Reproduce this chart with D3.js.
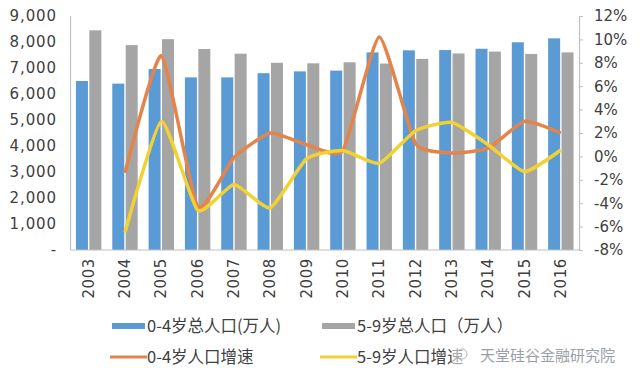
<!DOCTYPE html>
<html>
<head>
<meta charset="utf-8">
<script src="https://cdn.jsdelivr.net/npm/d3@7"></script>
<style>
  body { margin: 0; background: #fff; }
  svg { display: block; }
</style>
</head>
<body>
<div id="chart"></div>
<script>
// chart data
var years = ["2003","2004","2005","2006","2007","2008","2009","2010","2011","2012","2013","2014","2015","2016"];
var pop04 = [6500, 6400, 6960, 6640, 6640, 6800, 6870, 6900, 7600, 7680, 7690, 7740, 7990, 8140];
var pop59 = [8450, 7880, 8110, 7730, 7550, 7200, 7180, 7220, 7170, 7350, 7560, 7630, 7540, 7600];
var growth04 = [null, -1.4, 8.6, -4.3, -0.1, 2.0, 1.0, 0.5, 10.2, 1.1, 0.3, 0.7, 3.0, 2.0];
var growth59 = [null, -6.5, 3.0, -4.6, -2.4, -4.4, -0.2, 0.5, -0.6, 2.2, 2.9, 1.0, -1.3, 0.55];
var leftTicks = [0, 1000, 2000, 3000, 4000, 5000, 6000, 7000, 8000, 9000];
var rightTicks = [-8, -6, -4, -2, 0, 2, 4, 6, 8, 10, 12];

var W = 640, H = 368;
var m = {left: 70.5, right: 61, top: 16, bottom: 118};
var font = "'DejaVu Sans', sans-serif";
var cjk = "'Noto Sans CJK SC', sans-serif";

var svg = d3.select("#chart").append("svg")
    .attr("width", W).attr("height", H);

var x = d3.scaleBand()
    .domain(years)
    .range([m.left, W - m.right]);

var yL = d3.scaleLinear().domain([0, 9000]).range([H - m.bottom, m.top]);
var yR = d3.scaleLinear().domain([-8, 12]).range([H - m.bottom, m.top]);

// bars
var bw = 12;
var g = svg.append("g");
g.selectAll(".b1").data(years).enter().append("rect")
    .attr("x", d => x(d) + x.bandwidth() / 2 - bw - 0.7)
    .attr("width", bw)
    .attr("y", (d, i) => yL(pop04[i]))
    .attr("height", (d, i) => yL(0) - yL(pop04[i]))
    .attr("fill", "#5B9BD5");
g.selectAll(".b2").data(years).enter().append("rect")
    .attr("x", d => x(d) + x.bandwidth() / 2 + 0.7)
    .attr("width", bw)
    .attr("y", (d, i) => yL(pop59[i]))
    .attr("height", (d, i) => yL(0) - yL(pop59[i]))
    .attr("fill", "#A5A5A5");

// axes lines
svg.append("line").attr("x1", m.left).attr("x2", m.left)
    .attr("y1", yL(9000)).attr("y2", yL(0))
    .attr("stroke", "#bfbfbf").attr("stroke-width", 1.2);
svg.append("line").attr("x1", m.left).attr("x2", W - m.right)
    .attr("y1", yL(0)).attr("y2", yL(0))
    .attr("stroke", "#bfbfbf").attr("stroke-width", 1.2);

// right axis
var axR = svg.append("g")
    .attr("transform", "translate(" + (W - m.right) + ",0)")
    .call(d3.axisRight(yR).tickValues(rightTicks).tickSize(4).tickPadding(11)
        .tickFormat(d => d + "%"));
axR.select(".domain").attr("stroke", "#bfbfbf").attr("stroke-width", 1.2);
axR.selectAll(".tick line").attr("stroke", "#bfbfbf");
axR.selectAll("text").attr("font-family", font).attr("font-size", 15)
    .attr("fill", "#404040");

// left labels
svg.selectAll(".ll").data(leftTicks).enter().append("text")
    .attr("x", 57)
    .attr("y", d => yL(d))
    .attr("dy", "0.35em")
    .attr("text-anchor", "end")
    .attr("font-family", font).attr("font-size", 15)
    .attr("letter-spacing", 0.9)
    .attr("fill", "#404040")
    .text(d => d === 0 ? "-" : d3.format(",")(d));

// x labels
svg.selectAll(".xl").data(years).enter().append("text")
    .attr("transform", d => "translate(" + (x(d) + x.bandwidth() / 2 + 5) + "," + (yL(0) + 8) + ") rotate(-90)")
    .attr("text-anchor", "end")
    .attr("font-family", font).attr("font-size", 15)
    .attr("letter-spacing", 0.6)
    .attr("fill", "#404040")
    .text(d => d);

// growth lines
var line = data => d3.line()
    .defined(d => d != null)
    .x((d, i) => x(years[i]) + x.bandwidth() / 2)
    .y(d => yR(d))
    .curve(d3.curveCardinal.tension(0.5))(data);

svg.append("path").attr("d", line(growth04))
    .attr("fill", "none").attr("stroke", "#E4844A").attr("stroke-width", 3.5)
    .attr("stroke-linejoin", "round");
svg.append("path").attr("d", line(growth59))
    .attr("fill", "none").attr("stroke", "#F2D232").attr("stroke-width", 3.5)
    .attr("stroke-linejoin", "round");

// legend
var leg = [
  {name: "0-4岁总人口(万人)", color: "#5B9BD5", type: "bar", x: 112, y: 326},
  {name: "5-9岁总人口（万人）", color: "#A5A5A5", type: "bar", x: 322, y: 326},
  {name: "0-4岁人口增速", color: "#E4844A", type: "line", x: 110, y: 357},
  {name: "5-9岁人口增速", color: "#F2D232", type: "line", x: 320, y: 357}
];
leg.forEach(function (d) {
  if (d.type === "bar") {
    svg.append("rect").attr("x", d.x).attr("y", d.y - 3).attr("width", 33).attr("height", 6)
        .attr("fill", d.color);
  } else {
    svg.append("line").attr("x1", d.x).attr("x2", d.x + 37).attr("y1", d.y).attr("y2", d.y)
        .attr("stroke", d.color).attr("stroke-width", 3);
  }
  svg.append("text").attr("x", d.x + (d.type === "bar" ? 35 : 37)).attr("y", d.y)
      .attr("dy", "0.36em")
      .attr("font-family", cjk).attr("font-size", 16.5)
      .attr("fill", "#404040")
      .text(d.name);
});

// watermark
svg.append("rect").attr("x", 452).attr("y", 344).attr("width", 170).attr("height", 24)
    .attr("fill", "#fff").attr("opacity", 0.55);
svg.append("circle").attr("cx", 462).attr("cy", 354).attr("r", 5)
    .attr("fill", "none").attr("stroke", "#b0b4ba").attr("stroke-width", 1);
svg.append("text").attr("x", 480).attr("y", 356)
    .attr("dy", "0.36em")
    .attr("font-family", cjk).attr("font-size", 15)
    .attr("fill", "#9aa0a8")
    .text("天堂硅谷金融研究院");
</script>
</body>
</html>
